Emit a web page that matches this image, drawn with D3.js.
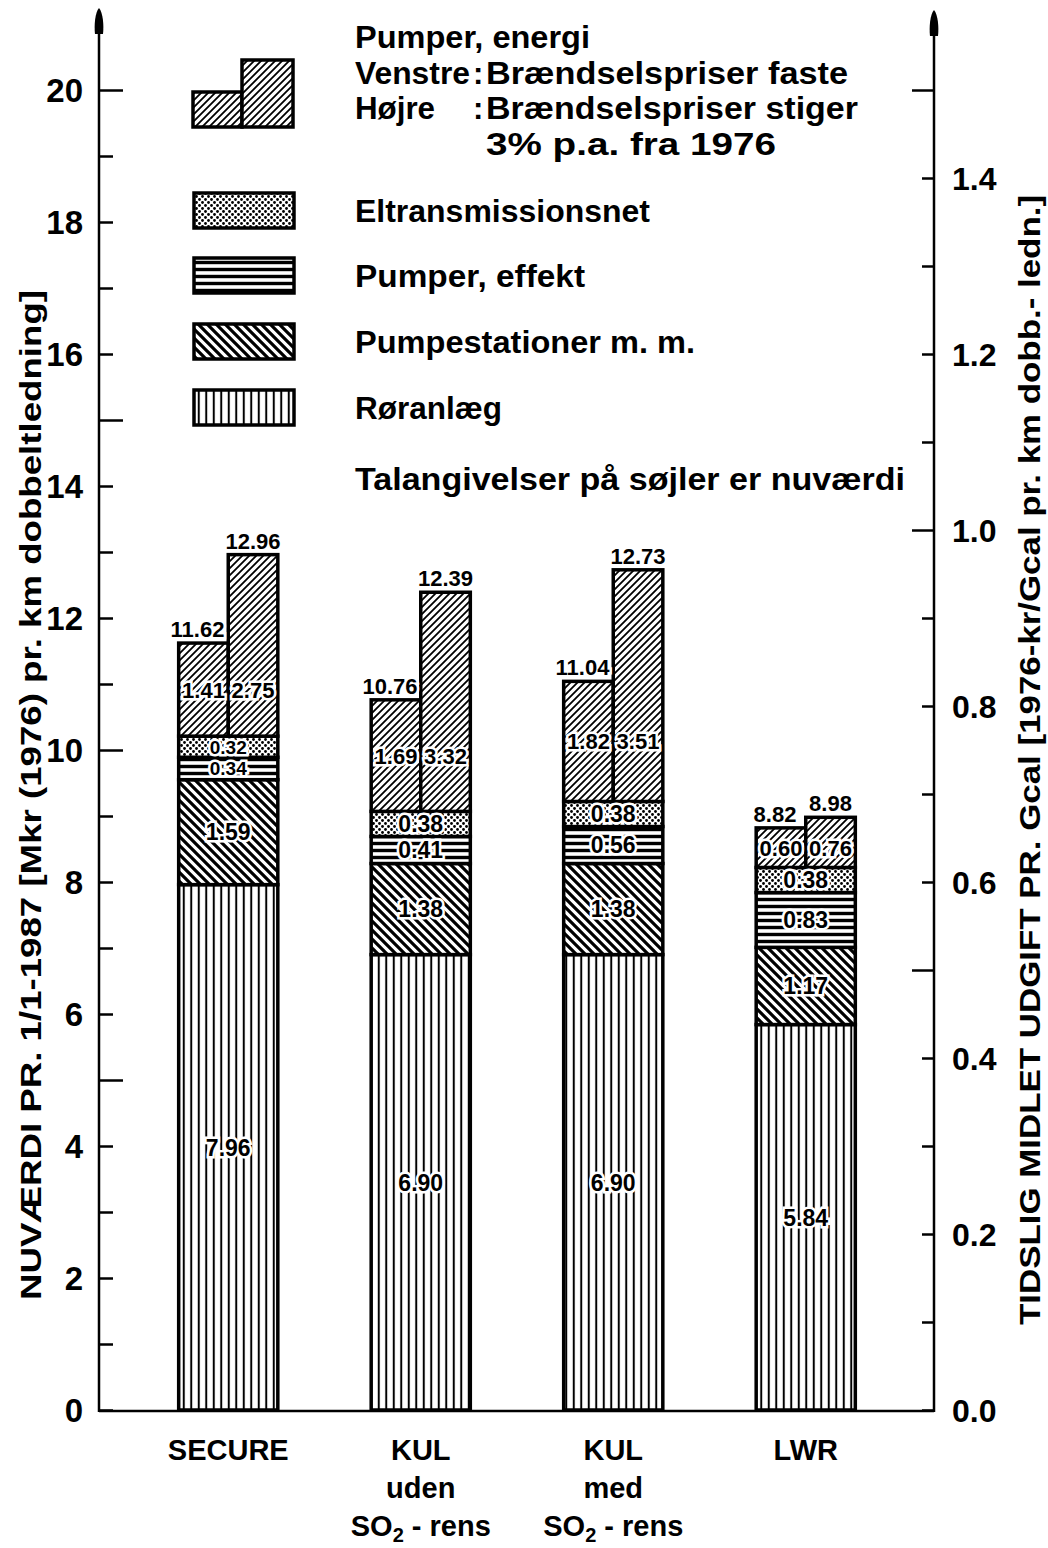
<!DOCTYPE html>
<html>
<head>
<meta charset="utf-8">
<script src="https://cdn.jsdelivr.net/npm/d3@7"></script>
<style>
  body { margin: 0; background: #fff; }
  svg text { font-family: "Liberation Sans", "DejaVu Sans", sans-serif; font-weight: bold; fill: #000; }
</style>
</head>
<body>
<div id="chart"></div>
<script>
// data
const categories = ['SECURE', 'KUL uden', 'KUL med', 'LWR'];
const categoryLines = [['SECURE'], ['KUL', 'uden', 'SO2 - rens'], ['KUL', 'med', 'SO2 - rens'], ['LWR']];
const roranlaeg = [7.96, 6.90, 6.90, 5.84];
const pumpestationer = [1.59, 1.38, 1.38, 1.17];
const pumperEffekt = [0.34, 0.41, 0.56, 0.83];
const eltransmission = [0.32, 0.38, 0.38, 0.38];
const energiFaste = [1.41, 1.69, 1.82, 0.60];
const energiStiger = [2.75, 3.32, 3.51, 0.76];
const leftTicks = [0, 2, 4, 6, 8, 10, 12, 14, 16, 18, 20];
const rightTicks = [0.0, 0.2, 0.4, 0.6, 0.8, 1.0, 1.2, 1.4];

const width = 1048, height = 1548;
const svg = d3.select('#chart').append('svg')
    .attr('width', width).attr('height', height);

// patterns
const defs = svg.append('defs');
function linePattern(id, size, path, sw) {
    const p = defs.append('pattern').attr('id', id)
        .attr('patternUnits', 'userSpaceOnUse')
        .attr('width', size).attr('height', size);
    p.append('rect').attr('width', size).attr('height', size).attr('fill', '#fff');
    p.append('path').attr('d', path).attr('stroke', '#000').attr('stroke-width', sw);
}
// Røranlæg: vertical lines
linePattern('p-ror', 7.5, 'M3.75,0V7.5', 2);
// Pumpestationer: back diagonal
linePattern('p-stat', 9, 'M0,0L9,9M-4.5,4.5L4.5,13.5M4.5,-4.5L13.5,4.5', 3.2);
// Pumper, effekt: horizontal lines
linePattern('p-eff', 7, 'M0,3.5H7', 3.4);
// energi: forward diagonal
linePattern('p-en', 7, 'M0,7L7,0M-3.5,3.5L3.5,-3.5M3.5,10.5L10.5,3.5', 1.8);
// Eltransmissionsnet: stipple dots
{
    const p = defs.append('pattern').attr('id', 'p-dot')
        .attr('patternUnits', 'userSpaceOnUse').attr('width', 6).attr('height', 6);
    p.append('rect').attr('width', 6).attr('height', 6).attr('fill', '#fff');
    p.append('circle').attr('cx', 1.5).attr('cy', 1.5).attr('r', 1.4).attr('fill', '#000');
    p.append('circle').attr('cx', 4.5).attr('cy', 4.5).attr('r', 1.4).attr('fill', '#000');
}

// scales
const yLeft = d3.scaleLinear().domain([0, 20]).range([1410, 90]);
const yRight = d3.scaleLinear().domain([0, 1.5]).range([1410, 90]);
const xBand = d3.scaleBand().domain(categories).range([132, 902]);
const barW = xBand.bandwidth() * 0.515;
const xLeft = c => xBand(c) + xBand.bandwidth() / 2 - barW / 2;

const axisLeftX = 99, axisRightX = 934;

// x baseline
svg.append('line').attr('x1', axisLeftX).attr('x2', axisRightX)
    .attr('y1', 1411).attr('y2', 1411).attr('stroke', '#000').attr('stroke-width', 2.5);

// left axis
const gL = svg.append('g').attr('transform', `translate(${axisLeftX},0)`);
gL.call(d3.axisLeft(yLeft).tickValues(d3.range(0, 21))
    .tickSize(-14).tickPadding(16)
    .tickFormat(d => leftTicks.includes(d) ? d : ''));
gL.select('.domain').remove();
gL.selectAll('.tick line').attr('stroke-width', 2.5)
    .attr('x2', d => d % 5 === 0 && d > 0 ? 24 : 14);
gL.selectAll('.tick text').style('font-size', '33px').attr('dy', '0.36em');
gL.append('line').attr('y1', 1412).attr('y2', 24).attr('stroke', '#000').attr('stroke-width', 2.5);
gL.append('path').attr('d', 'M0,8 C-4,12 -5,26 -4,34 L4,34 C5,26 4,12 0,8Z').attr('fill', '#000');

// right axis
const gR = svg.append('g').attr('transform', `translate(${axisRightX},0)`);
gR.call(d3.axisRight(yRight).tickValues(d3.range(0, 16).map(d => d / 10))
    .tickSize(-12).tickPadding(18)
    .tickFormat(d => rightTicks.some(t => Math.abs(t - d) < 1e-9) ? d3.format('.1f')(d) : ''));
gR.select('.domain').remove();
gR.selectAll('.tick line').attr('stroke-width', 2.5)
    .attr('x2', d => Math.abs(d * 2 - Math.round(d * 2)) < 1e-9 && d > 0 ? -22 : -12);
gR.selectAll('.tick text').style('font-size', '32px').attr('dy', '0.36em');
gR.append('line').attr('y1', 1412).attr('y2', 26).attr('stroke', '#000').attr('stroke-width', 2.5);
gR.append('path').attr('d', 'M0,10 C-4,14 -5,28 -4,36 L4,36 C5,28 4,14 0,10Z').attr('fill', '#000');

// axis titles
svg.append('text')
    .attr('transform', 'translate(41,795) rotate(-90)')
    .attr('text-anchor', 'middle')
    .attr('textLength', 1010).attr('lengthAdjust', 'spacingAndGlyphs')
    .style('font-size', '30px')
    .text('NUVÆRDI PR. 1/1-1987 [Mkr (1976) pr. km dobbeltledning]');
svg.append('text')
    .attr('transform', 'translate(1040,760) rotate(-90)')
    .attr('text-anchor', 'middle')
    .attr('textLength', 1130).attr('lengthAdjust', 'spacingAndGlyphs')
    .style('font-size', '30px')
    .text('TIDSLIG MIDLET UDGIFT PR. Gcal [1976-kr/Gcal pr. km dobb.- ledn.]');

// stacked bars
const fullLayers = [
    { vals: roranlaeg, fill: 'url(#p-ror)' },
    { vals: pumpestationer, fill: 'url(#p-stat)' },
    { vals: pumperEffekt, fill: 'url(#p-eff)' },
    { vals: eltransmission, fill: 'url(#p-dot)' }
];
const gBars = svg.append('g');
const gLabels = svg.append('g');

function label(x, y, txt, size) {
    gLabels.append('text').attr('x', x).attr('y', y)
        .attr('text-anchor', 'middle').attr('dy', '0.36em')
        .style('font-size', size + 'px')
        .attr('stroke', '#fff').attr('stroke-width', 5).attr('paint-order', 'stroke')
        .text(txt);
}

categories.forEach((c, i) => {
    const x0 = xLeft(c);
    const xm = x0 + barW / 2;
    let base = 0;
    fullLayers.forEach(l => {
        const v = l.vals[i];
        gBars.append('rect')
            .attr('x', x0).attr('width', barW)
            .attr('y', yLeft(base + v)).attr('height', yLeft(base) - yLeft(base + v))
            .attr('fill', l.fill).attr('stroke', '#000').attr('stroke-width', 3.5);
        label(xm, yLeft(base + v / 2), v.toFixed(2), v < 0.35 ? 19 : 23);
        base += v;
    });
    const vF = energiFaste[i], vS = energiStiger[i];
    gBars.append('rect')
        .attr('x', x0).attr('width', barW / 2)
        .attr('y', yLeft(base + vF)).attr('height', yLeft(base) - yLeft(base + vF))
        .attr('fill', 'url(#p-en)').attr('stroke', '#000').attr('stroke-width', 3.5);
    gBars.append('rect')
        .attr('x', xm).attr('width', barW / 2)
        .attr('y', yLeft(base + vS)).attr('height', yLeft(base) - yLeft(base + vS))
        .attr('fill', 'url(#p-en)').attr('stroke', '#000').attr('stroke-width', 3.5);
    const ly = yLeft(base + vF / 2);
    label(x0 + barW / 4, ly, vF.toFixed(2), 22);
    label(xm + barW / 4, ly, vS.toFixed(2), 22);
    // totals
    label(x0 + barW / 4 - 6, yLeft(base + vF) - 14, (base + vF).toFixed(2), 22);
    label(xm + barW / 4, yLeft(base + vS) - 14, (base + vS).toFixed(2), 22);

    // category labels
    categoryLines[i].forEach((ln, k) => {
        const t = svg.append('text')
            .attr('x', xm).attr('y', 1460 + k * 38)
            .attr('text-anchor', 'middle')
            .style('font-size', '29px');
        if (ln.startsWith('SO2')) {
            t.append('tspan').text('SO');
            t.append('tspan').attr('dy', 6).style('font-size', '20px').text('2');
            t.append('tspan').attr('dy', -6).text(ln.slice(3));
        } else {
            t.text(ln);
        }
    });
});

// legend
const lg = svg.append('g');
const legendText = (x, y, txt, len) => {
    const t = lg.append('text').attr('x', x).attr('y', y)
        .style('font-size', '31px').text(txt);
    if (len) t.attr('textLength', len).attr('lengthAdjust', 'spacingAndGlyphs');
    return t;
};
lg.append('rect').attr('x', 193).attr('y', 92).attr('width', 49).attr('height', 35)
    .attr('fill', 'url(#p-en)').attr('stroke', '#000').attr('stroke-width', 3.5);
lg.append('rect').attr('x', 242).attr('y', 60).attr('width', 51).attr('height', 67)
    .attr('fill', 'url(#p-en)').attr('stroke', '#000').attr('stroke-width', 3.5);
legendText(355, 48, 'Pumper, energi', 235);
legendText(355, 84, 'Venstre', 115);
legendText(473, 84, ':');
legendText(486, 84, 'Brændselspriser faste', 362);
legendText(355, 119, 'Højre', 80);
legendText(473, 119, ':');
legendText(486, 119, 'Brændselspriser stiger', 372);
legendText(486, 155, '3% p.a. fra 1976', 290);

const legendItems = [
    { y: 193, fill: 'url(#p-dot)', txt: 'Eltransmissionsnet', len: 295 },
    { y: 258, fill: 'url(#p-eff)', txt: 'Pumper, effekt', len: 230 },
    { y: 324, fill: 'url(#p-stat)', txt: 'Pumpestationer  m. m.', len: 340 },
    { y: 390, fill: 'url(#p-ror)', txt: 'Røranlæg', len: 147 }
];
legendItems.forEach(d => {
    lg.append('rect').attr('x', 194).attr('y', d.y).attr('width', 100).attr('height', 35)
        .attr('fill', d.fill).attr('stroke', '#000').attr('stroke-width', 3.5);
    legendText(355, d.y + 29, d.txt, d.len);
});
legendText(355, 490, 'Talangivelser på søjler er nuværdi', 550);
</script>
</body>
</html>
